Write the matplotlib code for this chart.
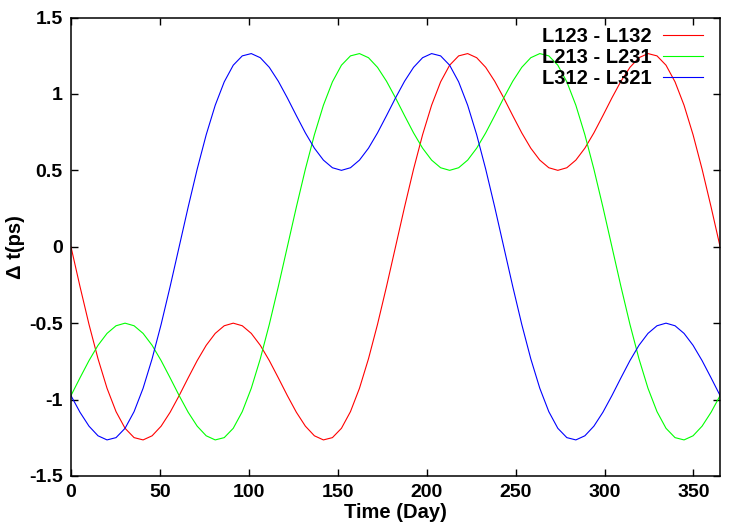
import numpy as np
import matplotlib
matplotlib.use("Agg")
import matplotlib.pyplot as plt
from matplotlib.ticker import FuncFormatter

plt.rcParams['font.family'] = ['Liberation Sans', 'DejaVu Sans']
plt.rcParams['font.weight'] = 'bold'

# day sampling for the read-off values (73 samples over one year)
days = np.linspace(0, 365, 73)

# L123 - L132
red = [0, -0.26, -0.508, -0.733, -0.926, -1.079, -1.188, -1.249, -1.264, -1.237, -1.174, -1.083,
       -0.974, -0.858, -0.745, -0.645, -0.567, -0.517, -0.5,
       -0.517, -0.567, -0.645, -0.745, -0.858, -0.974, -1.083, -1.174, -1.237, -1.264, -1.249,
       -1.188, -1.079, -0.926, -0.733, -0.508, -0.26, 0,
       0.26, 0.508, 0.733, 0.926, 1.079, 1.188, 1.249, 1.264, 1.237, 1.174, 1.083, 0.974,
       0.858, 0.745, 0.645, 0.567, 0.517, 0.5,
       0.517, 0.567, 0.645, 0.745, 0.858, 0.974, 1.083, 1.174, 1.237, 1.264, 1.249, 1.188,
       1.079, 0.926, 0.733, 0.508, 0.26, 0]

# L213 - L231
green = [-0.974, -0.858, -0.745, -0.645, -0.567, -0.517, -0.5,
         -0.517, -0.567, -0.645, -0.745, -0.858, -0.974, -1.083, -1.174, -1.237, -1.264, -1.249,
         -1.188, -1.079, -0.926, -0.733, -0.508, -0.26, 0,
         0.26, 0.508, 0.733, 0.926, 1.079, 1.188, 1.249, 1.264, 1.237, 1.174, 1.083, 0.974,
         0.858, 0.745, 0.645, 0.567, 0.517, 0.5,
         0.517, 0.567, 0.645, 0.745, 0.858, 0.974, 1.083, 1.174, 1.237, 1.264, 1.249, 1.188,
         1.079, 0.926, 0.733, 0.508, 0.26,
         0, -0.26, -0.508, -0.733, -0.926, -1.079, -1.188, -1.249, -1.264, -1.237, -1.174,
         -1.083, -0.974]

# L312 - L321
blue = [-0.974, -1.083, -1.174, -1.237, -1.264, -1.249, -1.188, -1.079, -0.926, -0.733, -0.508,
        -0.26, 0,
        0.26, 0.508, 0.733, 0.926, 1.079, 1.188, 1.249, 1.264, 1.237, 1.174, 1.083, 0.974,
        0.858, 0.745, 0.645, 0.567, 0.517, 0.5,
        0.517, 0.567, 0.645, 0.745, 0.858, 0.974, 1.083, 1.174, 1.237, 1.264, 1.249, 1.188,
        1.079, 0.926, 0.733, 0.508, 0.26,
        0, -0.26, -0.508, -0.733, -0.926, -1.079, -1.188, -1.249, -1.264, -1.237, -1.174,
        -1.083, -0.974, -0.858, -0.745, -0.645, -0.567, -0.517, -0.5,
        -0.517, -0.567, -0.645, -0.745, -0.858, -0.974]

labels = ["L123 - L132", "L213 - L231", "L312 - L321"]
colors = ["#ff0000", "#00ff00", "#0000ff"]

x_ticks = [0, 50, 100, 150, 200, 250, 300, 350]
y_ticks = [-1.5, -1, -0.5, 0, 0.5, 1, 1.5]

fig = plt.figure(figsize=(7.47, 5.23), dpi=100)
ax = fig.add_axes([0.095, 0.0899, 0.869, 0.8766])

for ys, lab, col in zip([red, green, blue], labels, colors):
    ax.plot(days, ys, color=col, linewidth=0.8, label=lab)

ax.set_xlim(0, 365)
ax.set_ylim(-1.5, 1.5)
ax.set_xticks(x_ticks)
ax.set_yticks(y_ticks)
ax.yaxis.set_major_formatter(FuncFormatter(lambda v, p: f"{v:g}"))
ax.tick_params(direction="in", length=5, width=1, top=True, right=True,
               labelsize=14, pad=6)
for s in ax.spines.values():
    s.set_linewidth(1.1)

ax.set_xlabel("Time (Day)", fontsize=14.5, fontweight="bold")
ax.xaxis.label.set_va("center")
ax.xaxis.set_label_coords(0.5, -0.079)
ax.set_ylabel("\u0394 t(ps)", fontsize=14.5, fontweight="bold")
ax.yaxis.label.set_va("center")
ax.yaxis.set_label_coords(-0.086, 0.5)

ax.legend(loc="upper right", bbox_to_anchor=(0.974, 0.979), frameon=False,
          markerfirst=False, fontsize=14.5, handlelength=2.0, handletextpad=0.55,
          labelspacing=0.1, borderpad=0, borderaxespad=0)

fig.savefig("out.png", dpi=100)
